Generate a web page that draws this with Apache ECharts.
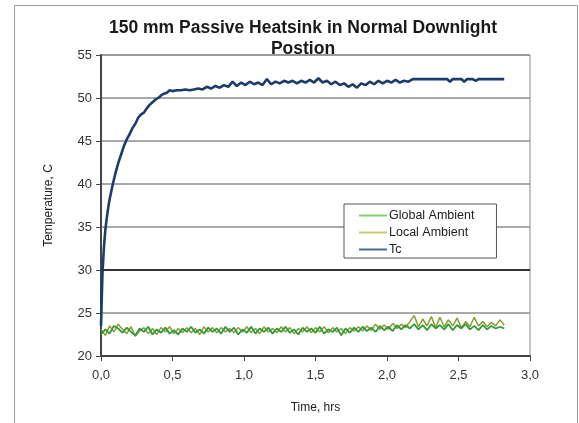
<!DOCTYPE html>
<html>
<head>
<meta charset="utf-8">
<script src="https://cdn.jsdelivr.net/npm/echarts@6/dist/echarts.min.js"></script>
<style>
  html, body { margin: 0; padding: 0; background: #fff; }
  #chart { width: 579px; height: 423px; }
</style>
</head>
<body>
<div id="chart"></div>
<script>
// ---- data ----
var yTicks = [20, 25, 30, 35, 40, 45, 50, 55];
var xTicks = [0, 0.5, 1.0, 1.5, 2.0, 2.5, 3.0];

// ambient loggers sample every 0.03 h
var ambStep = 0.03;
var globalAmbient = [
    22.5, 23.1, 22.6, 23.5, 23.2, 22.7, 23.3, 22.8, 22.4, 23.2,
    22.8, 23.4, 22.5, 23.1, 22.7, 23.3, 22.6, 23.0, 22.5, 23.2,
    22.8, 23.4, 22.7, 23.1, 22.6, 23.3, 22.8, 23.2, 22.6, 23.4,
    22.8, 23.3, 22.5, 23.1, 22.7, 23.4, 22.6, 23.2, 22.8, 23.3,
    22.6, 23.2, 22.8, 23.4, 22.7, 23.1, 22.5, 23.3, 22.8, 23.2,
    22.7, 23.4, 22.6, 23.1, 22.8, 23.3, 22.4, 23.2, 22.7, 23.3,
    22.8, 23.4, 22.9, 23.3, 22.8, 23.5, 23.0, 23.4, 22.9, 23.6,
    23.1, 23.6, 23.2, 23.7, 23.1, 23.6, 23.0, 23.7, 23.2, 23.6,
    23.1, 23.7, 23.0, 23.6, 23.2, 23.7, 23.1, 23.5, 23.0, 23.6,
    23.1, 23.5, 23.2, 23.4, 23.2
];
var localAmbient = [
    23.1, 22.4, 23.5, 22.8, 23.7, 23.1, 22.6, 23.4, 22.3, 22.9,
    23.3, 22.6, 23.2, 22.5, 23.3, 22.8, 23.4, 22.6, 23.2, 22.7,
    23.3, 22.7, 23.2, 22.5, 23.4, 22.8, 23.3, 22.7, 23.3, 22.8,
    23.2, 22.7, 23.3, 22.8, 23.4, 22.7, 23.2, 22.6, 23.4, 22.8,
    23.2, 22.7, 23.4, 22.8, 23.3, 22.6, 23.2, 22.8, 23.4, 22.7,
    23.3, 22.8, 23.4, 22.7, 23.3, 22.8, 23.2, 22.6, 23.3, 22.9,
    23.4, 22.9, 23.5, 23.0, 23.7, 23.1, 23.6, 23.1, 23.8, 23.2,
    23.7, 23.3, 24.0, 24.7, 23.4, 24.3, 23.5, 24.6, 23.3, 24.5,
    23.4, 24.2, 23.5, 24.4, 23.3, 24.0, 23.4, 24.5, 23.5, 24.0,
    23.4, 23.9, 23.5, 24.2, 23.6
];

var tcTime = [
    0, 0.005, 0.01, 0.02, 0.03, 0.04, 0.05, 0.06, 0.08, 0.1,
    0.12, 0.14, 0.16, 0.18, 0.2, 0.22, 0.24, 0.26, 0.28, 0.3,
    0.32, 0.34, 0.36, 0.38, 0.4, 0.42, 0.44, 0.46, 0.48, 0.5,
    0.53, 0.56, 0.59, 0.62, 0.65, 0.68, 0.71, 0.74, 0.77, 0.8,
    0.83, 0.86, 0.89, 0.92, 0.95, 0.98, 1.01, 1.04, 1.07, 1.1,
    1.13, 1.16, 1.19, 1.22, 1.25, 1.28, 1.31, 1.34, 1.37, 1.4,
    1.43, 1.46, 1.49, 1.52, 1.55, 1.58, 1.61, 1.64, 1.67, 1.7,
    1.73, 1.76, 1.79, 1.82, 1.85, 1.88, 1.91, 1.94, 1.97, 2.0,
    2.03, 2.06, 2.09, 2.12, 2.15, 2.18, 2.3, 2.42, 2.44, 2.46,
    2.52, 2.54, 2.56, 2.6, 2.62, 2.64, 2.82
];
var tcTemp = [
    23.5, 26.5, 29.5, 32.5, 34.6, 36.0, 37.2, 38.2, 39.8, 41.2,
    42.4, 43.4, 44.4, 45.2, 45.8, 46.5, 47.0, 47.7, 48.1, 48.3,
    48.8, 49.2, 49.5, 49.8, 50.0, 50.3, 50.5, 50.6, 50.9, 50.8,
    50.9, 50.9, 51.0, 50.9, 51.0, 51.1, 51.0, 51.3, 51.1, 51.4,
    51.2, 51.5, 51.3, 51.9, 51.4, 51.8, 51.5, 51.9, 51.6, 51.8,
    51.5, 52.2, 51.6, 51.9, 51.7, 52.0, 51.8, 52.0, 51.7, 52.0,
    51.8, 52.1, 51.8, 52.3, 51.8, 52.0, 51.6, 51.9, 51.5, 51.7,
    51.3, 51.6, 51.2, 51.7, 51.5, 51.9, 51.6, 52.0, 51.7, 52.0,
    51.8, 52.1, 51.8, 52.0, 51.9, 52.2, 52.2, 52.2, 51.9, 52.2,
    52.2, 51.9, 52.2, 52.2, 52.0, 52.2, 52.2
];

function pairs(xs, ys) {
    var out = [];
    for (var i = 0; i < ys.length; i++) out.push([xs[i], ys[i]]);
    return out;
}
var ambTime = globalAmbient.map(function (v, i) { return +(i * ambStep).toFixed(2); });

var chart = echarts.init(document.getElementById('chart'), null, { renderer: 'canvas' });

var FONT = 'Liberation Sans, Arial, sans-serif';

var option = {
    animation: false,
    backgroundColor: '#fff',
    textStyle: { fontFamily: FONT },
    title: {
        text: '150 mm Passive Heatsink in Normal Downlight\nPostion',
        left: 303,
        top: 18,
        padding: 0,
        textAlign: 'center',
        textStyle: { fontFamily: FONT, fontSize: 17.5, fontWeight: 'bold', color: '#1a1a1a', lineHeight: 21 }
    },
    graphic: [{
        type: 'rect',
        shape: { x: 14.5, y: 5.5, width: 563, height: 430 },
        style: { fill: 'none', stroke: '#9a9a9a', lineWidth: 1 },
        silent: true, z: -1
    }],
    legend: {
        orient: 'vertical',
        left: 344,
        top: 204,
        width: 153,
        padding: [5, 22, 2, 15],
        itemGap: 4,
        itemWidth: 28,
        itemHeight: 2,
        icon: 'rect',
        borderColor: '#555',
        borderWidth: 1,
        backgroundColor: '#fff',
        textStyle: { fontFamily: FONT, fontSize: 12.5, color: '#222', padding: [0, 0, 0, -3] },
        data: [
            { name: 'Global Ambient', itemStyle: { color: '#7fcf6f' } },
            { name: 'Local Ambient', itemStyle: { color: '#c8c870' } },
            { name: 'Tc', itemStyle: { color: '#4a6a9a' } }
        ]
    },
    grid: {
        left: 101, right: 49, top: 55, bottom: 67,
        show: true, borderColor: '#8a8a8a', borderWidth: 1
    },
    xAxis: {
        type: 'value',
        min: 0, max: 3, interval: 0.5,
        name: 'Time, hrs',
        nameLocation: 'middle',
        nameGap: 46,
        nameTextStyle: { fontFamily: FONT, fontSize: 12, color: '#222' },
        axisLine: { show: true, lineStyle: { color: '#444', width: 2 } },
        axisTick: { show: true, length: 5, lineStyle: { color: '#444', width: 1 } },
        axisLabel: {
            fontFamily: FONT, fontSize: 13, color: '#333', margin: 13,
            formatter: function (v) { return xTicks.indexOf(v) >= 0 ? v.toFixed(1).replace('.', ',') : ''; }
        },
        splitLine: { show: false }
    },
    yAxis: {
        type: 'value',
        min: 20, max: 55, interval: 5,
        name: 'Temperature, C',
        nameLocation: 'middle',
        nameGap: 46,
        nameRotate: 90,
        nameTextStyle: { fontFamily: FONT, fontSize: 12, color: '#222' },
        axisLine: { show: true, lineStyle: { color: '#444', width: 2 } },
        axisTick: { show: true, length: 5, lineStyle: { color: '#444', width: 1 } },
        axisLabel: {
            fontFamily: FONT, fontSize: 13, color: '#333', margin: 9,
            formatter: function (v) { return yTicks.indexOf(v) >= 0 ? String(v) : ''; }
        },
        splitLine: { show: true, lineStyle: { color: '#8c8c8c', width: 1.5 } }
    },
    series: [
        {
            name: 'Global Ambient',
            type: 'line',
            symbol: 'none',
            data: pairs(ambTime, globalAmbient),
            lineStyle: { color: '#2f9a3a', width: 1.8 },
            itemStyle: { color: '#7fcf6f' },
            z: 3
        },
        {
            name: 'Local Ambient',
            type: 'line',
            symbol: 'none',
            data: pairs(ambTime, localAmbient),
            lineStyle: { color: '#8e9a2e', width: 1.5 },
            itemStyle: { color: '#c8c870' },
            z: 2
        },
        {
            name: 'Tc',
            type: 'line',
            symbol: 'none',
            data: pairs(tcTime, tcTemp),
            lineStyle: { color: '#1d3c6e', width: 2.6 },
            itemStyle: { color: '#4a6a9a' },
            z: 4,
            markLine: {
                silent: true,
                symbol: 'none',
                label: { show: false },
                lineStyle: { color: '#333', width: 2, type: 'solid' },
                data: [{ yAxis: 30 }],
                z: 1
            }
        }
    ]
};

chart.setOption(option);
</script>
</body>
</html>
